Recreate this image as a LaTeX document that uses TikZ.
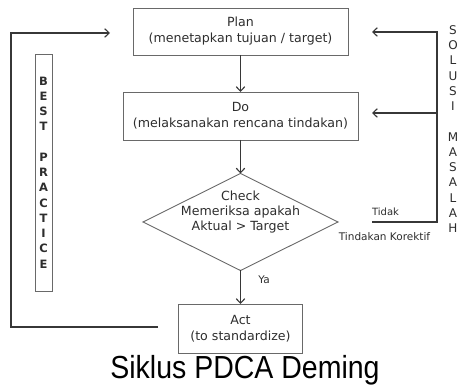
\documentclass[tikz,border=0pt]{standalone}
\usepackage{fontspec}
\setmainfont{DejaVu Sans}
\newfontfamily\titlefont{Liberation Sans}
\usepackage{tikz}
\usetikzlibrary{shapes,arrows,arrows.meta}
\definecolor{boxgray}{RGB}{105,105,105}
\definecolor{linegray}{RGB}{55,55,55}
\definecolor{textgray}{RGB}{45,45,45}

\begin{document}
\begin{tikzpicture}[x=1pt,y=-1pt,>={Straight Barb[length=4.5pt,width=8.5pt]},
  every node/.style={inner sep=0pt, outer sep=0pt, text=textgray},
  box/.style={draw=boxgray, line width=0.9pt, align=center, font=\fontsize{12.6}{16}\selectfont},
  decision/.style={draw=boxgray, line width=0.9pt, diamond, minimum width=195pt, minimum height=97pt},
  line/.style={draw=linegray, line width=1.1pt},
  letters/.style={align=center, font=\fontsize{12}{15.25}\selectfont},
  small/.style={font=\fontsize{10.5}{12}\selectfont}]
\useasboundingbox (0,0) rectangle (459,385);

% Boxes top to bottom
\node[box, minimum width=215pt, minimum height=47pt] (plan) at (240.5,31.5) {Plan\\(menetapkan tujuan / target)};
\node[box, minimum width=235pt, minimum height=48pt] (do) at (240.5,116) {Do\\(melaksanakan rencana tindakan)};
\node[decision] (check) at (240.5,222) {};
\node[align=center, font=\fontsize{12.6}{15}\selectfont] (checktext) at (240.5,212) {Check\\Memeriksa apakah\\Aktual > Target};
\node[box, minimum width=124pt, minimum height=49pt] (act) at (240.5,328.5) {Act\\(to standardize)};

% Side labels
\node[draw=boxgray, line width=0.9pt, minimum width=17pt, minimum height=237pt, align=center,
  font=\fontsize{11.5}{15.25}\selectfont\bfseries] (best) at (43.5,172.5) {B\\E\\S\\T\\~\\P\\R\\A\\C\\T\\I\\C\\E};
\node[letters] (solusi) at (453,129) {S\\O\\L\\U\\S\\I\\~\\M\\A\\S\\A\\L\\A\\H};
\node[small] (ya) at (264,280) {Ya};
\node[small, font=\fontsize{10}{12}\selectfont] (tidak) at (385.5,212) {Tidak};
\node[small] (korektif) at (384.5,237) {Tindakan Korektif};

% Title
\node[anchor=base, text=black, font=\titlefont\fontsize{28.5}{30}\selectfont] (title) at (245,379) {\scalebox{1}[1.12]{Siklus PDCA Deming}};

% Main flow
\draw[line,->] (plan) -- (do);
\draw[line,->] (do) -- (check);
\draw[line,->] (check) -- (act);

% Loop back on the left
\coordinate (loopstart) at (158,327);
\coordinate (looptip) at (110,33);
\draw[line,->] (loopstart) -- ++(-147,0) |- (looptip);

% Corrective loop on the right
\coordinate (tidakend) at (372,222);
\coordinate (plantip) at (372,32);
\coordinate (branch) at (437,113);
\coordinate (dotip) at (372,113);
\draw[line,->] (tidakend) -- ++(65,0) |- (plantip);
\draw[line,->] (branch) -- (dotip);
\end{tikzpicture}
\end{document}
